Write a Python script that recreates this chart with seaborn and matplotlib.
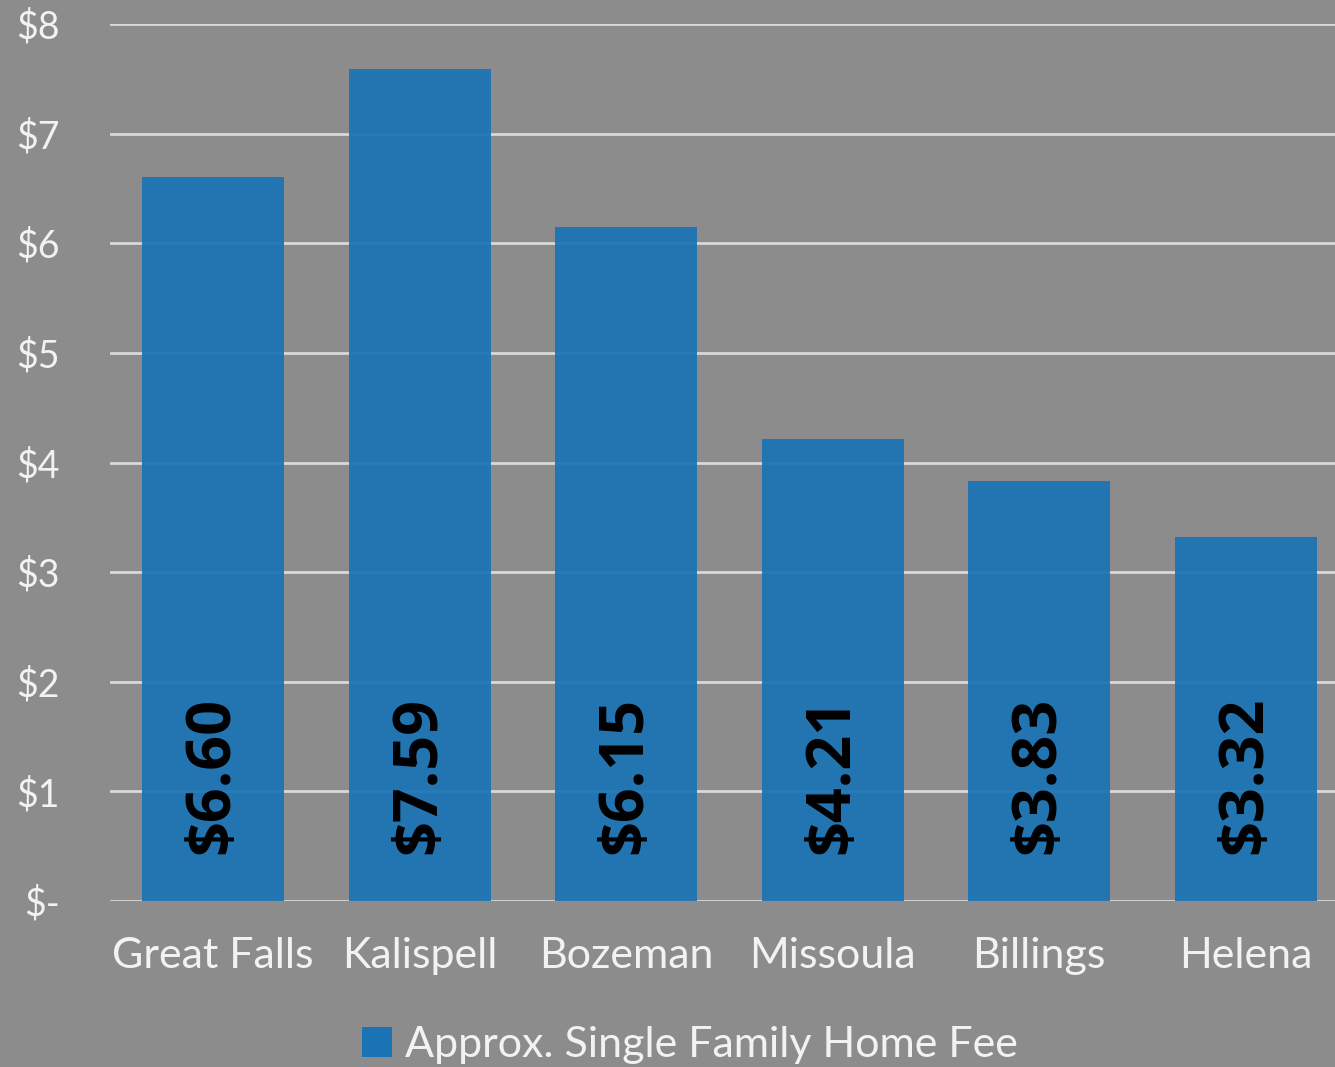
import matplotlib
matplotlib.use("Agg")
import matplotlib.pyplot as plt
import seaborn as sns
import pandas as pd
from matplotlib.patches import Patch

cities = ["Great Falls", "Kalispell", "Bozeman", "Missoula", "Billings", "Helena"]
fees = [6.60, 7.59, 6.15, 4.21, 3.83, 3.32]
value_labels = ["$6.60", "$7.59", "$6.15", "$4.21", "$3.83", "$3.32"]
ytick_values = [0, 1, 2, 3, 4, 5, 6, 7, 8]
ytick_labels = ["$-", "$1", "$2", "$3", "$4", "$5", "$6", "$7", "$8"]
series_name = "Approx. Single Family Home Fee"

BG = "#8c8c8c"
BAR = "#1973b4"
TXT = "#f2f2f2"

sns.set_theme(style="whitegrid")
plt.rcParams["font.family"] = ["Lato", "DejaVu Sans"]

df = pd.DataFrame({"city": cities, "fee": fees})

fig = plt.figure(figsize=(13.35, 10.67), dpi=100, facecolor=BG)
ax = fig.add_axes([110 / 1335, (1067 - 901) / 1067, (1349 - 110) / 1335, (901 - 24) / 1067])
ax.set_facecolor(BG)

sns.barplot(data=df, x="city", y="fee", color=BAR, width=0.69, saturation=1,
            alpha=0.92, ax=ax, zorder=3, edgecolor="none", linewidth=0)

ax.set_ylim(0, 8)
ax.set_xlim(-0.5, 5.5)
ax.set_yticks(ytick_values)
ax.set_yticklabels(ytick_labels)
ax.set_xlabel("")
ax.set_ylabel("")
ax.grid(axis="y", color="#d9d9d9", linewidth=2, zorder=1)
ax.grid(axis="x", visible=False)
for s in ax.spines.values():
    s.set_visible(False)
ax.tick_params(axis="y", length=0, pad=36, labelsize=27, labelcolor=TXT)
ax.tick_params(axis="x", length=0, pad=26, labelsize=31, labelcolor=TXT)

for i, lab in enumerate(value_labels):
    ax.text(i, 0.43, lab, rotation=90, ha="center", va="bottom",
            fontsize=44, fontweight="bold", family=["Open Sans", "DejaVu Sans"],
            color="black", zorder=5)

handle = Patch(facecolor=BAR, edgecolor="none")
leg = fig.legend([handle], [series_name], loc="center",
                 bbox_to_anchor=(690 / 1335, 1 - 1045 / 1067), frameon=False,
                 fontsize=31, handlelength=0.7, handleheight=0.7, handletextpad=0.3)
for t in leg.get_texts():
    t.set_color(TXT)

fig.savefig("out.png", dpi=100, facecolor=BG)
